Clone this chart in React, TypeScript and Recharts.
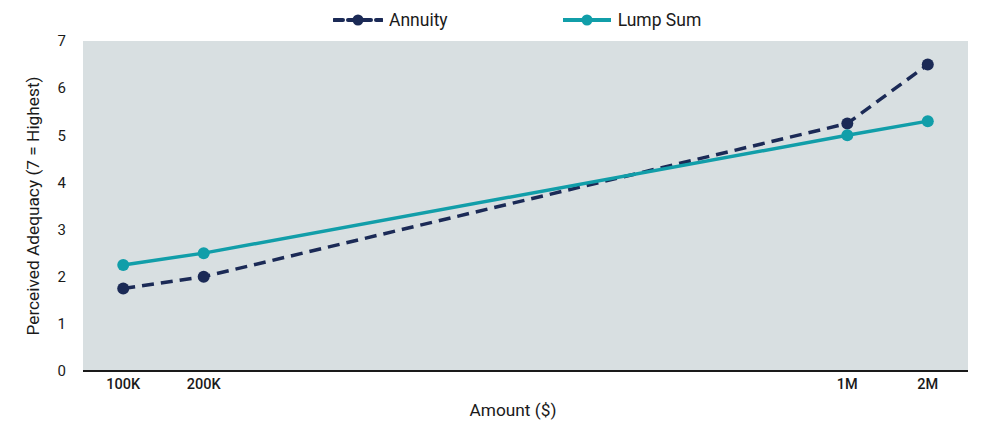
import {
  LineChart,
  Line,
  XAxis,
  YAxis,
  CartesianGrid,
} from "recharts";

// 11 equal slots on the x axis; the blank ones only hold space between 200K and 1M
const amounts = ["100K", "200K", "", "", "", "", "", "", "", "1M", "2M"];
const annuity = [1.75, 2.0, null, null, null, null, null, null, null, 5.25, 6.5];
const lumpSum = [2.25, 2.5, null, null, null, null, null, null, null, 5.0, 5.3];
const yTicks = [0, 1, 2, 3, 4, 5, 6, 7];

const NAVY = "#1b2a56";
const TEAL = "#119ea9";
const FONT = "Roboto, 'Noto Sans', sans-serif";

const data = amounts.map((amount, i) => ({
  key: i,
  amount,
  annuity: annuity[i],
  lumpSum: lumpSum[i],
}));

const legendItems = [
  { name: "Annuity", color: NAVY, dash: "9 5" },
  { name: "Lump Sum", color: TEAL, dash: undefined },
];

function ChartLegend() {
  return (
    <div
      style={{
        position: "absolute",
        top: 10,
        left: 333,
        display: "flex",
        alignItems: "center",
        fontFamily: FONT,
        fontSize: 17.5,
        color: "#1a1a1a",
        lineHeight: "20px",
      }}
    >
      {legendItems.map((item, i) => (
        <div
          key={item.name}
          style={{ display: "flex", alignItems: "center", marginRight: i === 0 ? 114 : 0 }}
        >
          <svg width={50} height={14} style={{ marginRight: 6 }}>
            <line
              x1={1}
              y1={7}
              x2={49}
              y2={7}
              stroke={item.color}
              strokeWidth={4}
              strokeLinecap={item.dash ? "round" : "butt"}
              strokeDasharray={item.dash}
            />
            <circle cx={25} cy={7} r={5.5} fill={item.color} />
          </svg>
          <span>{item.name}</span>
        </div>
      ))}
    </div>
  );
}

function YLabel(props: any) {
  const { viewBox } = props;
  const cx = 33;
  const cy = viewBox.y + viewBox.height / 2;
  return (
    <text
      x={cx}
      y={cy}
      transform={`rotate(-90, ${cx}, ${cy})`}
      textAnchor="middle"
      dominantBaseline="central"
      fontFamily={FONT}
      fontSize={17.3}
      fill="#1a1a1a"
    >
      Perceived Adequacy (7 = Highest)
    </text>
  );
}

function XLabel() {
  return (
    <text
      x={513}
      y={410}
      textAnchor="middle"
      dominantBaseline="central"
      fontFamily={FONT}
      fontSize={17.3}
      fill="#1a1a1a"
    >
      Amount ($)
    </text>
  );
}

export default function App() {
  return (
    <div style={{ position: "absolute", left: 0, top: 0, width: 984, height: 427, background: "#fff" }}>
      <LineChart
        width={984}
        height={427}
        data={data}
        margin={{ top: 41, right: 16, bottom: 0, left: 0 }}
      >
        <rect x={83} y={41} width={885} height={330} fill="#d8dfe1" />
        <CartesianGrid vertical={false} stroke="#ffffff" strokeWidth={1.5} />
        <XAxis
          dataKey="key"
          type="category"
          scale="band"
          tickFormatter={(i: number) => amounts[i]}
          tickLine={false}
          axisLine={{ stroke: "#1a1a1a", strokeWidth: 2 }}
          height={56}
          tick={{ fill: "#1a1a1a", fontSize: 14.5, fontWeight: 500, fontFamily: FONT }}
          interval={0}
          label={<XLabel />}
        />
        <YAxis
          domain={[0, 7]}
          ticks={yTicks}
          width={83}
          tickLine={false}
          axisLine={false}
          tickMargin={11}
          tick={{ fill: "#1a1a1a", fontSize: 15, fontFamily: FONT }}
          label={<YLabel />}
        />
        <Line
          dataKey="annuity"
          name="Annuity"
          stroke={NAVY}
          strokeWidth={3.5}
          strokeDasharray="12 7"
          connectNulls
          dot={{ r: 6, fill: NAVY, stroke: NAVY, strokeWidth: 0, strokeDasharray: "" }}
          isAnimationActive={false}
        />
        <Line
          dataKey="lumpSum"
          name="Lump Sum"
          stroke={TEAL}
          strokeWidth={3.5}
          connectNulls
          dot={{ r: 6, fill: TEAL, stroke: TEAL, strokeWidth: 0 }}
          isAnimationActive={false}
        />
      </LineChart>
      <ChartLegend />
    </div>
  );
}
